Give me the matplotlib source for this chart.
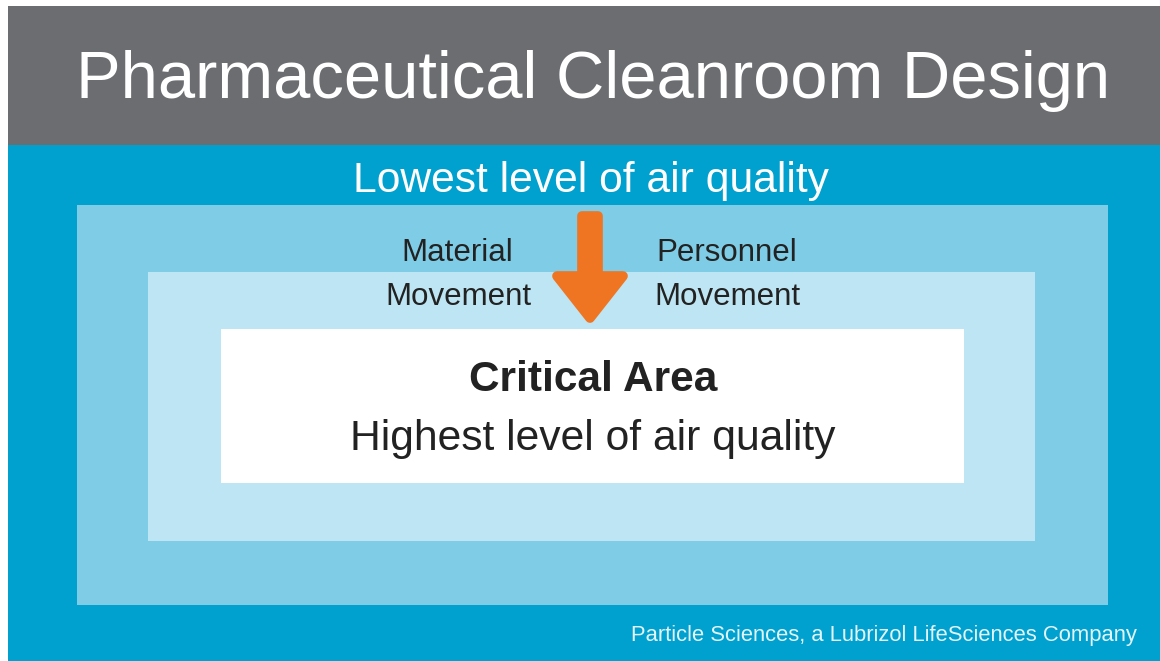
import matplotlib.pyplot as plt
from matplotlib.patches import Rectangle, Polygon

# Texte des Diagramms
titel = "Pharmaceutical Cleanroom Design"
aussen_text = "Lowest level of air quality"
links_text = ["Material", "Movement"]
rechts_text = ["Personnel", "Movement"]
kern_titel = "Critical Area"
kern_text = "Highest level of air quality"
quelle = "Particle Sciences, a Lubrizol LifeSciences Company"

# Farben
GRAU = "#6c6d70"
BLAU = "#00a1cf"
HELL1 = "#7ecce5"
HELL2 = "#bee5f3"
ORANGE = "#f07522"
DUNKEL = "#222222"

plt.rcParams["font.family"] = ["Liberation Sans", "DejaVu Sans"]

fig = plt.figure(figsize=(11.6, 6.61), dpi=100)
ax = fig.add_axes([0, 0, 1, 1])
ax.set_xlim(0, 1160)
ax.set_ylim(661, 0)
ax.axis("off")

# Hintergrundflächen
ax.add_patch(Rectangle((8, 6), 1152, 139, color=GRAU, lw=0))
ax.add_patch(Rectangle((8, 145), 1152, 516, color=BLAU, lw=0))

# verschachtelte Bereiche (außen -> innen)
ax.add_patch(Rectangle((77, 205), 1031, 400, color=HELL1, lw=0))
ax.add_patch(Rectangle((148, 272), 887, 269, color=HELL2, lw=0))
ax.add_patch(Rectangle((221, 329), 743, 154, color="white", lw=0))

# Pfeil nach innen (abgerundete Ecken über dicke Kontur)
pfeil = [(582, 216), (598, 216), (598, 276), (623, 276),
         (590, 318), (557, 276), (582, 276)]
ax.add_patch(Polygon(pfeil, closed=True, facecolor=ORANGE, edgecolor=ORANGE,
                     lw=7, joinstyle="round"))

# Beschriftungen
ax.text(593, 98, titel, color="white", fontsize=48.2, ha="center", va="baseline")
ax.text(591, 192, aussen_text, color="white", fontsize=30.7, ha="center", va="baseline")
ax.text(457, 261, links_text[0], color=DUNKEL, fontsize=22.5, ha="center", va="baseline")
ax.text(458, 305, links_text[1], color=DUNKEL, fontsize=22.5, ha="center", va="baseline")
ax.text(727, 261, rechts_text[0], color=DUNKEL, fontsize=22.5, ha="center", va="baseline")
ax.text(727, 305, rechts_text[1], color=DUNKEL, fontsize=22.5, ha="center", va="baseline")
ax.text(593, 391, kern_titel, color=DUNKEL, fontsize=30.5, fontweight="bold",
        ha="center", va="baseline")
ax.text(593, 450, kern_text, color=DUNKEL, fontsize=30.7, ha="center", va="baseline")
ax.text(1137, 641, quelle, color="#e2f4fa", fontsize=15.8, ha="right", va="baseline")

fig.savefig("out.png", dpi=100, facecolor="white")
